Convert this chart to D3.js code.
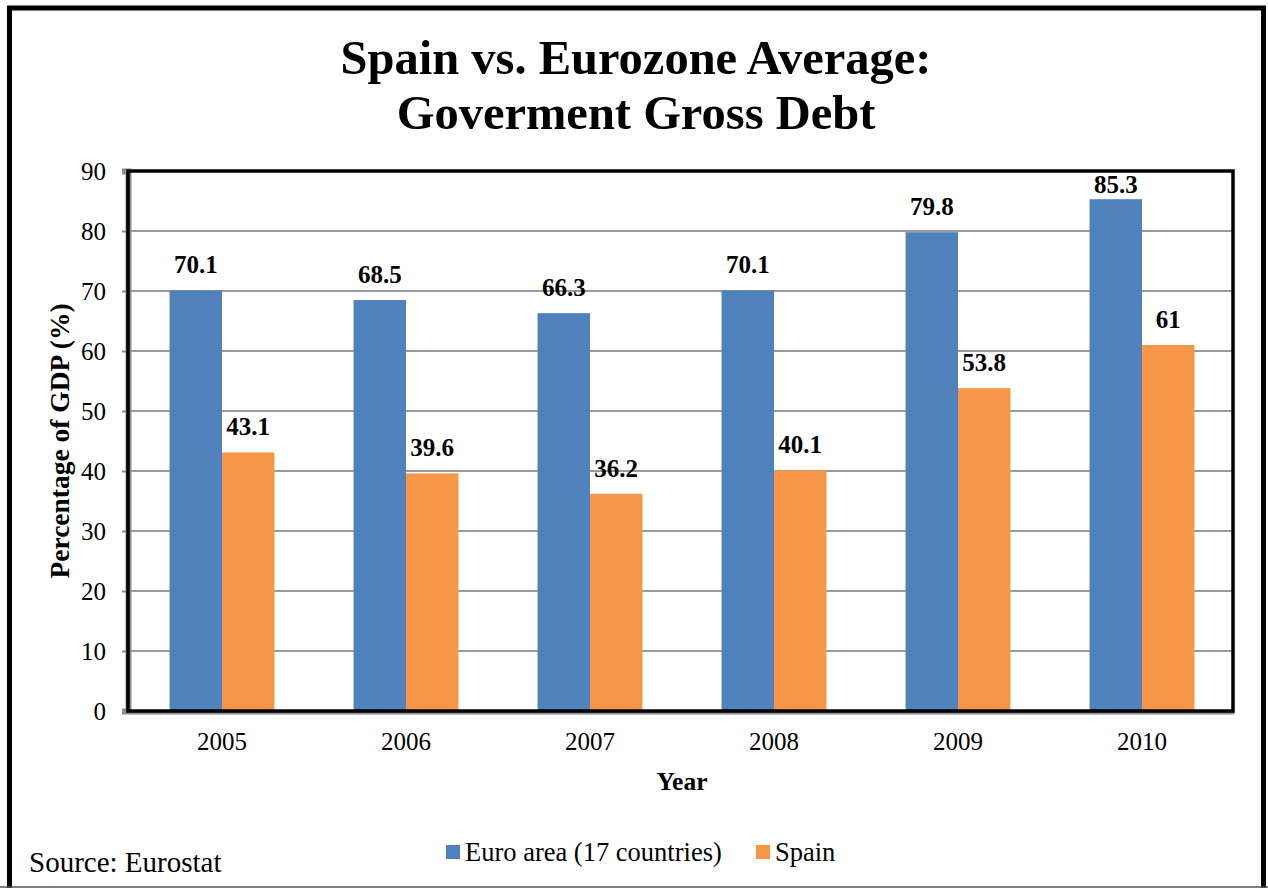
<!DOCTYPE html>
<html>
<head>
<meta charset="utf-8">
<script src="https://cdn.jsdelivr.net/npm/d3@7"></script>
<style>
  html, body { margin: 0; padding: 0; background: #fff; }
  svg { display: block; font-family: "Liberation Serif", "Times New Roman", serif; }
</style>
</head>
<body>
<svg id="chart" width="1268" height="888"></svg>
<script>
// Government gross debt, % of GDP
const years = ["2005", "2006", "2007", "2008", "2009", "2010"];
const euroArea = [70.1, 68.5, 66.3, 70.1, 79.8, 85.3];
const spain = [43.1, 39.6, 36.2, 40.1, 53.8, 61];
const seriesNames = ["Euro area (17 countries)", "Spain"];
const seriesColors = ["#4F81BD", "#F79646"];
const yTicks = [0, 10, 20, 30, 40, 50, 60, 70, 80, 90];

const svg = d3.select("#chart");
const W = 1268, H = 888;
const plot = { left: 130, right: 1234, top: 171, bottom: 711 };

svg.append("rect").attr("width", W).attr("height", H).attr("fill", "#fff");

// outer frame
svg.append("rect")
  .attr("x", 9.5).attr("y", 8).attr("width", 1254).attr("height", 900)
  .attr("fill", "none").attr("stroke", "#000").attr("stroke-width", 5);
svg.append("line")
  .attr("x1", 0).attr("x2", W).attr("y1", 887).attr("y2", 887)
  .attr("stroke", "#555").attr("stroke-width", 1.5);

// title
const title = svg.append("text")
  .attr("text-anchor", "middle").attr("font-weight", "bold").attr("font-size", 48.5);
title.append("tspan").attr("x", 636).attr("y", 74).text("Spain vs. Eurozone Average:");
title.append("tspan").attr("x", 636).attr("y", 129).text("Goverment Gross Debt");

const y = d3.scaleLinear().domain([0, 90]).range([plot.bottom, plot.top]);
const x0 = d3.scaleBand().domain(years).range([plot.left, plot.right])
  .paddingInner(0.43).paddingOuter(0.215);
const x1 = d3.scaleBand().domain(seriesNames).range([0, x0.bandwidth()]);

// gridlines
svg.append("g")
  .selectAll("line").data(yTicks.filter(t => t > 0 && t < 90)).join("line")
  .attr("x1", plot.left).attr("x2", plot.right)
  .attr("y1", d => y(d)).attr("y2", d => y(d))
  .attr("stroke", "#9a9a9a").attr("stroke-width", 2);

// bars
const rows = years.map((yr, i) => ({ year: yr, values: [euroArea[i], spain[i]] }));
const groups = svg.append("g").selectAll("g").data(rows).join("g")
  .attr("transform", d => `translate(${x0(d.year)},0)`);
groups.selectAll("rect")
  .data(d => d.values.map((v, k) => ({ name: seriesNames[k], value: v, color: seriesColors[k] })))
  .join("rect")
  .attr("x", d => x1(d.name)).attr("width", x1.bandwidth())
  .attr("y", d => y(d.value)).attr("height", d => y(0) - y(d.value))
  .attr("fill", d => d.color);

// value labels, kept inside the plot frame
groups.selectAll("text")
  .data(d => d.values.map((v, k) => ({ name: seriesNames[k], value: v })))
  .join("text")
  .attr("x", d => x1(d.name) + x1.bandwidth() / 2)
  .attr("y", d => Math.max(y(d.value) - 17, plot.top + 22))
  .attr("text-anchor", "middle").attr("font-weight", "bold").attr("font-size", 25)
  .text(d => d.value);

// y axis
const yAxis = svg.append("g").attr("transform", `translate(${plot.left - 2},0)`)
  .call(d3.axisLeft(y).tickValues(yTicks).tickSize(6).tickPadding(16).tickFormat(d3.format("d")));
yAxis.select(".domain").attr("stroke", "#8c8c8c").attr("stroke-width", 6);
yAxis.selectAll(".tick line").attr("stroke", "#8c8c8c").attr("stroke-width", 2);
yAxis.selectAll(".tick text").attr("font-size", 25).attr("fill", "#000")
  .attr("font-family", "Liberation Serif, serif");

// x axis
const xAxis = svg.append("g").attr("transform", `translate(0,${plot.bottom + 1.5})`)
  .call(d3.axisBottom(x0).tickSize(0).tickPadding(20));
xAxis.select(".domain").attr("stroke", "#8c8c8c").attr("stroke-width", 3);
xAxis.selectAll(".tick text").attr("font-size", 25).attr("fill", "#000")
  .attr("font-family", "Liberation Serif, serif");

// plot frame
svg.append("rect")
  .attr("x", plot.left - 2).attr("y", plot.top)
  .attr("width", plot.right - 1 - (plot.left - 2)).attr("height", plot.bottom - plot.top)
  .attr("fill", "none").attr("stroke", "#000").attr("stroke-width", 3.5);

// axis titles
svg.append("text")
  .attr("x", (plot.left + plot.right) / 2).attr("y", 790)
  .attr("text-anchor", "middle").attr("font-weight", "bold").attr("font-size", 25.5)
  .text("Year");
svg.append("text")
  .attr("transform", `translate(69,${(plot.top + plot.bottom) / 2}) rotate(-90)`)
  .attr("text-anchor", "middle").attr("font-weight", "bold").attr("font-size", 27.5)
  .text("Percentage of GDP (%)");

// legend
const legendPos = [446, 756];
const legend = svg.append("g").selectAll("g").data(seriesNames).join("g")
  .attr("transform", (d, i) => `translate(${legendPos[i]},0)`);
legend.append("rect").attr("x", 0).attr("y", 845).attr("width", 14).attr("height", 14)
  .attr("fill", (d, i) => seriesColors[i]);
legend.append("text").attr("x", 19).attr("y", 861).attr("font-size", 26.5).text(d => d);

// source note
svg.append("text").attr("x", 29).attr("y", 872).attr("font-size", 29).text("Source: Eurostat");
</script>
</body>
</html>
